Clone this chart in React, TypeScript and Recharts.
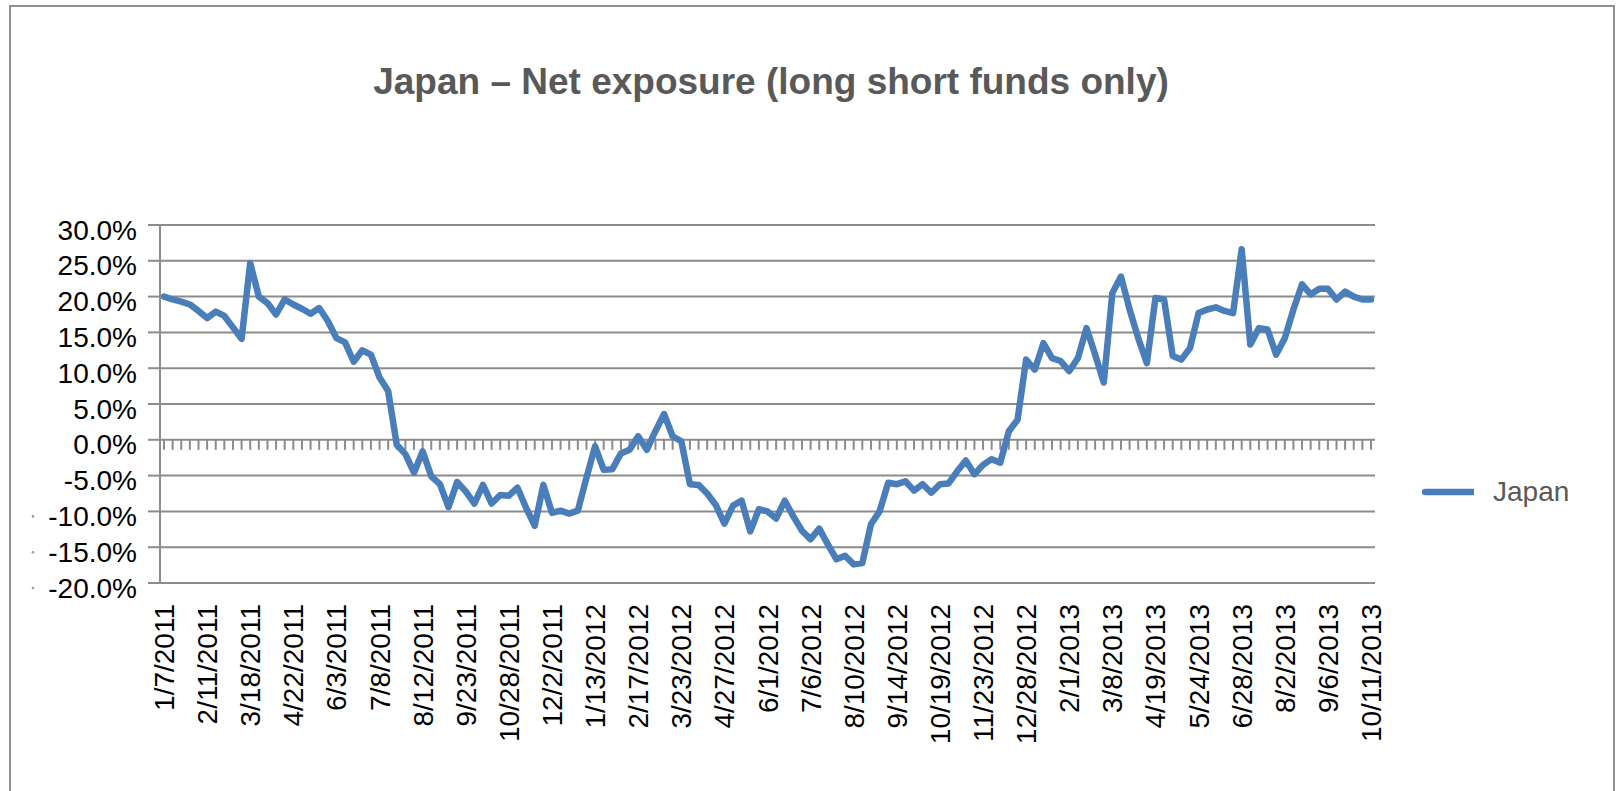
import React from "react";
import { CartesianGrid, Legend, Line, LineChart, ReferenceLine, XAxis, YAxis } from "recharts";

const FONT = "'Liberation Sans', Arial, sans-serif";
const GRID = "#8c8c8c";
const BLUE = "#4a7ebb";

// weekly observation dates (a few holiday weeks are absent in the source)
const dates = [
  "1/7/2011", "1/14/2011", "1/21/2011", "1/28/2011", "2/4/2011", "2/11/2011", "2/18/2011", "2/25/2011",
  "3/4/2011", "3/11/2011", "3/18/2011", "3/25/2011", "4/1/2011", "4/8/2011", "4/15/2011", "4/22/2011",
  "4/29/2011", "5/13/2011", "5/20/2011", "5/27/2011", "6/3/2011", "6/10/2011", "6/17/2011", "6/24/2011",
  "7/1/2011", "7/8/2011", "7/15/2011", "7/22/2011", "7/29/2011", "8/5/2011", "8/12/2011", "8/19/2011",
  "8/26/2011", "9/9/2011", "9/16/2011", "9/23/2011", "9/30/2011", "10/7/2011", "10/14/2011", "10/21/2011",
  "10/28/2011", "11/4/2011", "11/11/2011", "11/18/2011", "11/25/2011", "12/2/2011", "12/9/2011", "12/16/2011",
  "12/23/2011",
  "1/6/2012", "1/13/2012", "1/20/2012", "1/27/2012", "2/3/2012", "2/10/2012", "2/17/2012", "2/24/2012",
  "3/2/2012", "3/9/2012", "3/16/2012", "3/23/2012", "3/30/2012", "4/6/2012", "4/13/2012", "4/20/2012",
  "4/27/2012", "5/4/2012", "5/11/2012", "5/18/2012", "5/25/2012", "6/1/2012", "6/8/2012", "6/15/2012",
  "6/22/2012", "6/29/2012", "7/6/2012", "7/13/2012", "7/20/2012", "7/27/2012", "8/3/2012", "8/10/2012",
  "8/17/2012", "8/24/2012", "8/31/2012", "9/7/2012", "9/14/2012", "9/21/2012", "9/28/2012", "10/5/2012",
  "10/12/2012", "10/19/2012", "10/26/2012", "11/2/2012", "11/9/2012", "11/16/2012", "11/23/2012", "11/30/2012",
  "12/7/2012", "12/14/2012", "12/21/2012", "12/28/2012",
  "1/4/2013", "1/11/2013", "1/18/2013", "1/25/2013", "2/1/2013", "2/8/2013", "2/15/2013", "2/22/2013",
  "3/1/2013", "3/8/2013", "3/15/2013", "3/22/2013", "4/5/2013", "4/12/2013", "4/19/2013", "4/26/2013",
  "5/3/2013", "5/10/2013", "5/17/2013", "5/24/2013", "5/31/2013", "6/7/2013", "6/14/2013", "6/21/2013",
  "6/28/2013", "7/5/2013", "7/12/2013", "7/19/2013", "7/26/2013", "8/2/2013", "8/9/2013", "8/16/2013",
  "8/23/2013", "8/30/2013", "9/6/2013", "9/13/2013", "9/20/2013", "9/27/2013", "10/4/2013", "10/11/2013",
];

// net exposure, %
const japan = [
  20.0, 19.6, 19.3, 18.9, 18.0, 17.0, 17.9, 17.3, 15.7, 14.1,
  24.7, 20.0, 19.1, 17.5, 19.6, 18.9, 18.3, 17.6, 18.4, 16.6,
  14.2, 13.6, 10.9, 12.5, 11.9, 8.7, 6.8, -0.7, -2.0, -4.6,
  -1.6, -5.1, -6.2, -9.4, -5.9, -7.2, -8.9, -6.3, -8.9, -7.7,
  -7.8, -6.7, -9.5, -12.0, -6.3, -10.2, -9.9, -10.3, -9.9, -5.3,
  -0.9, -4.2, -4.1, -1.9, -1.4, 0.5, -1.4, 1.2, 3.6, 0.5,
  -0.2, -6.2, -6.3, -7.5, -9.1, -11.7, -9.2, -8.5, -12.8, -9.7,
  -10.0, -11.0, -8.5, -10.7, -12.7, -13.9, -12.4, -14.6, -16.7, -16.2,
  -17.4, -17.2, -11.8, -10.0, -6.0, -6.2, -5.8, -7.1, -6.2, -7.4,
  -6.2, -6.1, -4.4, -2.9, -4.8, -3.5, -2.7, -3.2, 1.2, 2.8,
  11.2, 9.8, 13.5, 11.4, 11.0, 9.6, 11.4, 15.6, 11.9, 8.0,
  20.5, 22.8, 18.2, 14.2, 10.7, 19.8, 19.6, 11.7, 11.2, 12.8,
  17.7, 18.2, 18.5, 18.0, 17.7, 26.6, 13.3, 15.6, 15.4, 11.9,
  14.2, 18.2, 21.7, 20.3, 21.1, 21.1, 19.6, 20.7, 20.0, 19.6,
  19.6,
];

const yTicks = [-20, -15, -10, -5, 0, 5, 10, 15, 20, 25, 30];

const data = dates.map((d, i) => ({ date: d, japan: japan[i] }));

const renderYTick = (props: any) => {
  const { x, y, payload } = props;
  const v = payload.value;
  return (
    <g>
      {v <= -10 && <circle cx={x - 104} cy={y + 5} r={1.3} fill="#9a9a9a" />}
      <text x={x} y={y} dy={14.5} textAnchor="end" fontSize={28} fontFamily={FONT} fill="#000">
        {v.toFixed(1)}%
      </text>
    </g>
  );
};

const renderXTick = (props: any) => {
  const { x, y, payload } = props;
  const ty = y + 21;
  return (
    <text
      x={x}
      y={ty}
      dy={10}
      transform={`rotate(-90 ${x} ${ty})`}
      textAnchor="end"
      fontSize={28}
      fontFamily={FONT}
      fill="#000"
    >
      {payload.value}
    </text>
  );
};

const renderLegend = () => (
  <div style={{ display: "flex", alignItems: "center", height: 32, fontFamily: FONT }}>
    <svg width={52} height={8}>
      <line x1={3} y1={4} x2={51} y2={4} stroke={BLUE} strokeWidth={6.5} strokeLinecap="round" />
    </svg>
    <span style={{ marginLeft: 19, fontSize: 28, lineHeight: "32px", color: "#595959" }}>Japan</span>
  </div>
);

export default function App() {
  return (
    <div
      style={{
        position: "absolute",
        left: 0,
        top: 0,
        width: 1620,
        height: 791,
        overflow: "hidden",
        background: "#fff",
        fontFamily: FONT,
      }}
    >
      <div
        style={{
          position: "absolute",
          left: 9,
          top: 5,
          width: 1606,
          height: 900,
          boxSizing: "border-box",
          border: "2px solid #909090",
        }}
      />
      <div
        style={{
          position: "absolute",
          left: 0,
          top: 63,
          width: 1542,
          textAlign: "center",
          fontSize: 37,
          lineHeight: "37px",
          fontWeight: "bold",
          color: "#595959",
        }}
      >
        Japan – Net exposure (long short funds only)
      </div>
      <div style={{ position: "absolute", left: 0, top: 0 }}>
        <LineChart width={1620} height={791} data={data} margin={{ top: 225, right: 245, bottom: 28, left: 0 }}>
          <CartesianGrid vertical={false} stroke={GRID} strokeWidth={2} />
          <XAxis
            dataKey="date"
            interval={4}
            tickLine={false}
            axisLine={false}
            tickSize={0}
            tickMargin={0}
            height={180}
            padding={{ left: 4, right: 4 }}
            tick={renderXTick}
          />
          <YAxis
            width={160}
            domain={[-20, 30]}
            ticks={yTicks}
            interval={0}
            allowDataOverflow
            tickSize={12}
            tickMargin={11}
            tickLine={{ stroke: GRID, strokeWidth: 2 }}
            axisLine={{ stroke: GRID, strokeWidth: 2 }}
            tick={renderYTick}
          />
          {dates.map((d) => (
            <ReferenceLine
              key={d}
              segment={[
                { x: d, y: 0 },
                { x: d, y: -1.4 },
              ]}
              stroke={GRID}
              strokeWidth={2}
            />
          ))}
          <Line
            type="linear"
            dataKey="japan"
            name="Japan"
            stroke={BLUE}
            strokeWidth={6.5}
            strokeLinejoin="round"
            strokeLinecap="round"
            dot={false}
            activeDot={false}
            isAnimationActive={false}
          />
          <Legend
            layout="vertical"
            align="center"
            verticalAlign="middle"
            wrapperStyle={{ left: 1422, top: 476, width: 190, height: 32 }}
            content={renderLegend}
          />
        </LineChart>
      </div>
    </div>
  );
}
